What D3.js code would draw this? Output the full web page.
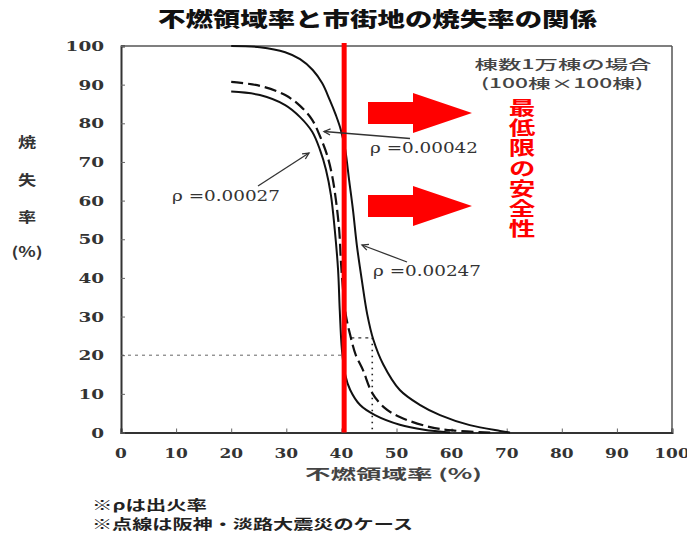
<!DOCTYPE html>
<html><head><meta charset="utf-8">
<script src="https://cdn.jsdelivr.net/npm/d3@7"></script>
<style>
html,body{margin:0;padding:0;background:#fff;}
svg{display:block;}
</style></head>
<body>
<svg id="c" width="687" height="536"></svg>
<script>
// ---- data ----
const title = "不燃領域率と市街地の焼失率の関係";
const xTicks = [0,10,20,30,40,50,60,70,80,90,100];
const yTicks = [0,10,20,30,40,50,60,70,80,90,100];
const xTitle = "不燃領域率 (%)";
const yTitleChars = ["焼","失","率","(%)"];
const legendLines = ["棟数1万棟の場合","(100棟×100棟)"];
const safetyText = "最低限の安全性";
const notes = ["※ρは出火率","※点線は阪神・淡路大震災のケース"];
const thresholdX = 40.5;      // red line (不燃領域率)
const kobeY = 20;             // dashed horizontal reference
const kobeX = 45.6;           // dotted vertical reference
const kobeTop = 24.5;

// ρ = 0.00247 (solid, right)
const rho00247 = [[20,100],[25.2,99.7],[29.8,98.4],[32.5,96.6],[34.8,93.8],[36.5,90.4],[37.9,86],[39,82.1],[39.9,78.3],[40.7,73.1],[41.4,65.3],[42.1,57.6],[42.8,48.5],[43.7,39.5],[44.7,30.5],[45.8,24],[47.6,17.6],[50.6,11],[54.3,7.1],[57.9,4.5],[63.3,1.9],[68.8,0.4],[70.6,0]];
// ρ = 0.00042 (dashed, middle)
const rho00042 = [[20,90.7],[25.2,89.7],[29.8,87.3],[32.5,84.5],[34.7,80.9],[36.1,76.7],[37.4,71.8],[38.3,66.6],[39,60.2],[39.6,52.4],[39.9,44.6],[40.3,36.9],[40.8,30.4],[41.6,25.2],[42.6,20.1],[43.9,16.2],[45.6,10.2],[47.9,6.3],[50.6,4],[56.1,1.4],[60.5,0.5],[67,0]];
// ρ = 0.00027 (solid, left)
const rho00027 = [[20,88.2],[25.2,87.3],[29.8,84.7],[32.5,81.6],[34.7,77.8],[36.1,73.2],[37.2,68],[38.1,61.4],[38.8,52.4],[39.4,42],[39.7,31.7],[40.1,21.3],[40.7,14.9],[41.6,11],[43.4,7.1],[46.1,4.5],[50.6,2],[55,0.7],[59.7,0]];

const rhoLabels = ["ρ =0.00027","ρ =0.00042","ρ =0.00247"];

// ---- chart ----
const svg = d3.select("#c");
const x = d3.scaleLinear().domain([0,100]).range([121,672]);
const y = d3.scaleLinear().domain([0,100]).range([432.5,46]);
const jp = "'Noto Sans CJK JP','Noto Sans CJK SC',sans-serif";
const serif = "'DejaVu Serif','Liberation Serif',serif";

// title
svg.append("text").attr("x",158).attr("y",27)
  .attr("textLength",439).attr("lengthAdjust","spacingAndGlyphs")
  .style("font-family",jp).style("font-weight",900).style("font-size","20px").attr("fill","#111")
  .text(title);

// frame
svg.append("line").attr("x1",x(0)).attr("x2",x(100)).attr("y1",y(100)).attr("y2",y(100)).attr("stroke","#555").attr("stroke-width",1.5);
svg.append("line").attr("x1",x(100)).attr("x2",x(100)).attr("y1",y(100)).attr("y2",y(0)).attr("stroke","#555").attr("stroke-width",1.5);

// axes (inner ticks)
const gx = svg.append("g").attr("transform",`translate(0,${y(0)})`)
  .call(d3.axisBottom(x).tickValues(xTicks).tickSize(-4).tickFormat(""));
const gy = svg.append("g").attr("transform",`translate(${x(0)},0)`)
  .call(d3.axisLeft(y).tickValues(yTicks).tickSize(-4).tickFormat(""));
[gx,gy].forEach(g=>{
  g.select(".domain").attr("stroke","#333").attr("stroke-width",2);
  g.selectAll(".tick line").attr("stroke","#666").attr("stroke-width",1);
});

// tick labels
svg.append("g").selectAll("text").data(xTicks).join("text")
  .attr("x",d=>x(d)).attr("y",458).attr("text-anchor","middle")
  .attr("textLength",d=>String(d).length*11.8).attr("lengthAdjust","spacingAndGlyphs")
  .style("font-family",serif).style("font-weight","bold").style("font-size","13.5px").attr("fill","#333")
  .text(d=>d);
svg.append("g").selectAll("text").data(yTicks).join("text")
  .attr("x",d=>104-String(d).length*12.8).attr("y",d=>y(d)+5)
  .attr("textLength",d=>String(d).length*12.8).attr("lengthAdjust","spacingAndGlyphs")
  .style("font-family",serif).style("font-weight","bold").style("font-size","13.5px").attr("fill","#333")
  .text(d=>d);

// axis titles
svg.append("text").attr("x",305).attr("y",478.5)
  .attr("textLength",177).attr("lengthAdjust","spacingAndGlyphs")
  .style("font-family",jp).style("font-weight",700).style("font-size","14px").attr("fill","#444")
  .text(xTitle);
const yTitlePos = [142,180,217,252];
svg.append("g").selectAll("text").data(yTitleChars).join("text")
  .attr("transform",(d,i)=>`translate(27,${yTitlePos[i]+5}) scale(1.3,1)`)
  .attr("text-anchor","middle")
  .style("font-family",jp).style("font-weight",700).style("font-size","14px").attr("fill","#333")
  .text(d=>d);

// reference lines
svg.append("line").attr("x1",x(0)).attr("x2",x(thresholdX)).attr("y1",y(kobeY)).attr("y2",y(kobeY))
  .attr("stroke","#555").attr("stroke-width",0.9).attr("stroke-dasharray","3,4");
svg.append("line").attr("x1",x(kobeX)).attr("x2",x(kobeX)).attr("y1",y(kobeTop)).attr("y2",y(0))
  .attr("stroke","#222").attr("stroke-width",1.6).attr("stroke-dasharray","1.5,4.5");
svg.append("line").attr("x1",x(41.8)).attr("x2",x(kobeX)).attr("y1",y(kobeTop)).attr("y2",y(kobeTop))
  .attr("stroke","#333").attr("stroke-width",1.2).attr("stroke-dasharray","3,4");

// curves
const line = d3.line().x(d=>x(d[0])).y(d=>y(d[1])).curve(d3.curveCatmullRom.alpha(0.5));
svg.append("path").datum(rho00247).attr("d",line).attr("fill","none").attr("stroke","#111").attr("stroke-width",2);
svg.append("path").datum(rho00042).attr("d",line).attr("fill","none").attr("stroke","#111").attr("stroke-width",2.2).attr("stroke-dasharray","12,5");
svg.append("path").datum(rho00027).attr("d",line).attr("fill","none").attr("stroke","#111").attr("stroke-width",2);

// red threshold line
svg.append("line").attr("x1",x(thresholdX)).attr("x2",x(thresholdX)).attr("y1",y(100)-3).attr("y2",y(0))
  .attr("stroke","#ff0000").attr("stroke-width",5);

// rho annotations
const labelPos = [[172,200.5],[370,153],[373,275.5]];
const leaders = [[[258,186],[309,153]],[[410,138.5],[324,131.5]],[[407,262],[362,245]]];
svg.append("g").selectAll("text").data(rhoLabels).join("text")
  .attr("x",(d,i)=>labelPos[i][0]).attr("y",(d,i)=>labelPos[i][1])
  .attr("textLength",108).attr("lengthAdjust","spacingAndGlyphs")
  .style("font-family",serif).style("font-size","14px").attr("fill","#333")
  .text(d=>d);
leaders.forEach(([a,b])=>{
  svg.append("line").attr("x1",a[0]).attr("y1",a[1]).attr("x2",b[0]).attr("y2",b[1]).attr("stroke","#333").attr("stroke-width",1.3);
  const ang = Math.atan2(a[1]-b[1],a[0]-b[0]);
  const L=7, s=0.45;
  const p1=[b[0]+L*Math.cos(ang+s),b[1]+L*Math.sin(ang+s)];
  const p2=[b[0]+L*Math.cos(ang-s),b[1]+L*Math.sin(ang-s)];
  svg.append("path").attr("d",`M${p1}L${b}L${p2}`).attr("fill","none").attr("stroke","#333").attr("stroke-width",1.3);
});

// legend text
const legY=[68.5,87.5], legW=[177,162], legX=[563,562];
svg.append("g").selectAll("text").data(legendLines).join("text")
  .attr("x",(d,i)=>legX[i]-legW[i]/2).attr("y",(d,i)=>legY[i])
  .attr("textLength",(d,i)=>legW[i]).attr("lengthAdjust","spacingAndGlyphs")
  .style("font-family",jp).style("font-weight",500).style("font-size","13px").attr("fill","#444")
  .text(d=>d);

// red arrows
const arrowYs = [113,206];
arrowYs.forEach(cy=>{
  const pts=[[368,cy-11],[413,cy-11],[413,cy-20],[472,cy],[413,cy+20],[413,cy+11],[368,cy+11]];
  svg.append("polygon").attr("points",pts.map(p=>p.join(",")).join(" ")).attr("fill","#ff0000");
});

// red vertical text (single vertical text element)
svg.append("text")
  .attr("transform","translate(522,98) scale(1.4,1)")
  .attr("x",0).attr("y",0)
  .style("writing-mode","vertical-rl")
  .style("font-family",jp).style("font-weight",700).style("font-size","19px")
  .style("letter-spacing","1.3px").attr("fill","#ff0000")
  .text(safetyText);

// notes
const noteY=[509.5,529], noteW=[115,321];
svg.append("g").selectAll("text").data(notes).join("text")
  .attr("x",92).attr("y",(d,i)=>noteY[i])
  .attr("textLength",(d,i)=>noteW[i]).attr("lengthAdjust","spacingAndGlyphs")
  .style("font-family",jp).style("font-weight",700).style("font-size","13.4px").attr("fill","#222")
  .text(d=>d);
</script>
</body></html>
